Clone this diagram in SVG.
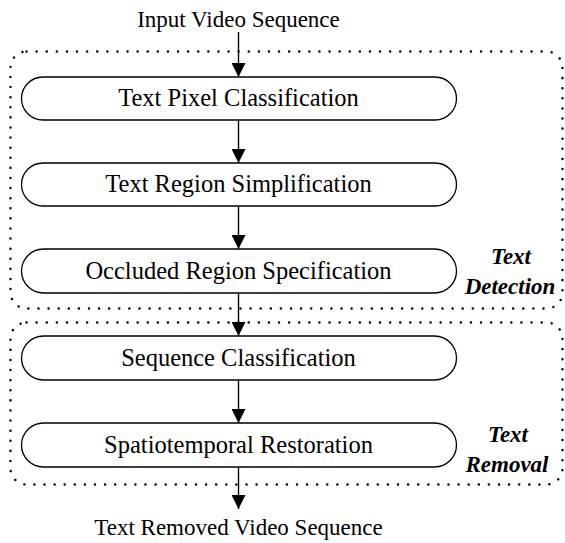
<svg xmlns="http://www.w3.org/2000/svg" width="565" height="543" viewBox="0 0 565 543">
  <style>
    .bg { fill: #ffffff; }
    .stage { fill: #ffffff; stroke: #000000; stroke-width: 1.3; }
    .group { fill: none; stroke: #000000; stroke-width: 2.4; stroke-dasharray: 0.1 10; stroke-linecap: round; }
    .lbl { font-family: "Liberation Serif", "Times New Roman", serif; font-size: 24.5px; fill: #000000; text-anchor: middle; }
    .io { font-family: "Liberation Serif", "Times New Roman", serif; font-size: 23px; fill: #000000; text-anchor: middle; }
    .tag { font-family: "Liberation Serif", "Times New Roman", serif; font-size: 23px; font-weight: bold; font-style: italic; fill: #000000; text-anchor: middle; }
    .flow { stroke: #000000; stroke-width: 1.4; fill: none; marker-end: url(#head); }
  </style>
  <defs>
    <marker id="head" viewBox="0 0 14 14" refX="14" refY="7" markerWidth="14" markerHeight="14" markerUnits="userSpaceOnUse" orient="auto">
      <path d="M0,0 L14,7 L0,14 Z" fill="#000000"/>
    </marker>
  </defs>

  <rect class="bg" x="0" y="0" width="565" height="543"/>

  <!-- dotted phase enclosures -->
  <g id="phase-detection">
    <rect class="group" x="10.5" y="51.5" width="552" height="257" rx="16" ry="16"/>
    <text class="tag" x="511" y="264">Text</text>
    <text class="tag" x="510" y="294">Detection</text>
  </g>
  <g id="phase-removal">
    <rect class="group" x="10.5" y="322.5" width="552" height="162" rx="16" ry="16"/>
    <text class="tag" x="508" y="442">Text</text>
    <text class="tag" x="507" y="472">Removal</text>
  </g>

  <!-- connectors -->
  <g id="connectors">
    <line class="flow" x1="238.5" y1="32" x2="238.5" y2="77"/>
    <line class="flow" x1="238.5" y1="120" x2="238.5" y2="163"/>
    <line class="flow" x1="238.5" y1="206" x2="238.5" y2="249"/>
    <line class="flow" x1="238.5" y1="293" x2="238.5" y2="336"/>
    <line class="flow" x1="238.5" y1="380" x2="238.5" y2="423"/>
    <line class="flow" x1="238.5" y1="467" x2="238.5" y2="509"/>
  </g>

  <g id="input">
    <text class="io" x="238.5" y="27">Input Video Sequence</text>
  </g>

  <g id="text-pixel-classification">
    <rect class="stage" x="21.5" y="77" width="435" height="43" rx="21.5" ry="21.5"/>
    <text class="lbl" x="238.5" y="106">Text Pixel Classification</text>
  </g>

  <g id="text-region-simplification">
    <rect class="stage" x="21.5" y="163" width="435" height="43" rx="21.5" ry="21.5"/>
    <text class="lbl" x="238.5" y="192">Text Region Simplification</text>
  </g>

  <g id="occluded-region-specification">
    <rect class="stage" x="21.5" y="249" width="435" height="44" rx="22" ry="22"/>
    <text class="lbl" x="238.5" y="279">Occluded Region Specification</text>
  </g>

  <g id="sequence-classification">
    <rect class="stage" x="21.5" y="336" width="435" height="44" rx="22" ry="22"/>
    <text class="lbl" x="238.5" y="366">Sequence Classification</text>
  </g>

  <g id="spatiotemporal-restoration">
    <rect class="stage" x="21.5" y="423" width="435" height="44" rx="22" ry="22"/>
    <text class="lbl" x="238.5" y="453">Spatiotemporal Restoration</text>
  </g>

  <g id="output">
    <text class="io" x="238.5" y="535">Text Removed Video Sequence</text>
  </g>
</svg>
